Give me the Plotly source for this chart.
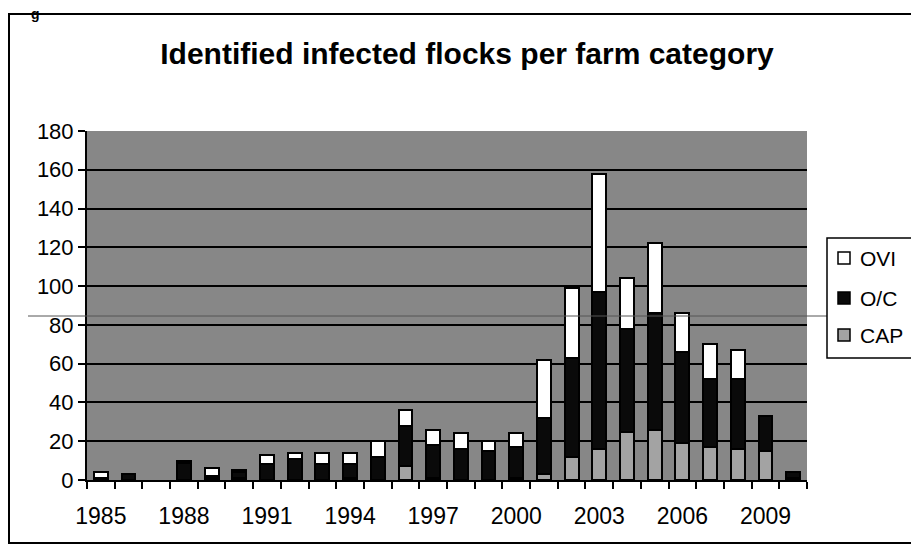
import plotly.graph_objects as go

years = list(range(1985, 2011))
cap = [1, 0, 0, 0, 1, 1, 0, 0, 0, 1, 0, 7, 1, 0, 0, 1, 3, 12, 16, 25, 26, 19, 17, 16, 15, 1]
oc = [0, 3, 0, 9, 1, 3, 8, 11, 8, 7, 12, 21, 17, 16, 15, 16, 29, 51, 81, 53, 60, 47, 35, 36, 18, 3]
ovi = [3, 0, 0, 1, 4, 1, 5, 3, 6, 6, 8, 8, 8, 8, 5, 7, 30, 36, 61, 26, 36, 20, 18, 15, 0, 0]
label_years = [1985, 1988, 1991, 1994, 1997, 2000, 2003, 2006, 2009]
y_ticks = list(range(0, 181, 20))

FONT = "Liberation Sans, Arial, sans-serif"

fig = go.Figure()
series = [("CAP", cap, "#a3a3a3"), ("O/C", oc, "#0a0a0a"), ("OVI", ovi, "#ffffff")]
for name, vals, col in series:
    fig.add_trace(go.Bar(
        x=years, y=[v if v else None for v in vals], name=name, showlegend=False,
        marker=dict(color=col, line=dict(color="black", width=2)),
    ))

W, H = 911, 554
L, R, T, B = 87, 807, 131, 480

def px(xp):
    return (xp - L) / (R - L)

def py(yp):
    return (B - yp) / (B - T)

fig.update_layout(
    width=W, height=H,
    margin=dict(l=L, r=W - R, t=T, b=H - B, autoexpand=False),
    barmode="stack", bargap=0.5,
    paper_bgcolor="white", plot_bgcolor="#878787",
    font=dict(family=FONT, size=22, color="black"),
    title=dict(text="<b>Identified infected flocks per farm category</b>",
               x=px(467), xref="paper", xanchor="center",
               y=1 - 53 / H, yref="container", yanchor="middle",
               font=dict(family=FONT, size=30, color="black")),
    xaxis=dict(range=[1984.5, 2010.5], tickmode="array", tickvals=label_years,
               ticks="", showgrid=False, zeroline=False,
               showline=True, linecolor="black", linewidth=2,
               tickfont=dict(size=23), ticklabelstandoff=14,
               minor=dict(tickmode="linear", tick0=1984.5, dtick=1, ticks="outside",
                          ticklen=7, tickwidth=1.5, tickcolor="black", showgrid=False)),
    yaxis=dict(range=[0, 180], tickmode="array", tickvals=y_ticks,
               ticks="outside", ticklen=7, tickwidth=1.5, tickcolor="black",
               showgrid=True, gridcolor="black", gridwidth=1.5, zeroline=False,
               showline=True, linecolor="black", linewidth=2,
               tickfont=dict(size=22)),
    showlegend=False,
)

# outer chart-area frame
fig.add_shape(type="rect", xref="paper", yref="paper",
              x0=px(9), x1=px(925), y0=py(543), y1=py(14),
              line=dict(color="black", width=2), fillcolor="rgba(0,0,0,0)", layer="above")
# scan artefact line
fig.add_shape(type="line", xref="paper", yref="paper",
              x0=px(28), x1=px(911), y0=py(316), y1=py(316),
              line=dict(color="#555555", width=1), layer="above")

# legend box (drawn by hand so it can run off the right edge as in the reference)
fig.add_shape(type="rect", xref="paper", yref="paper",
              x0=px(827), x1=px(925), y0=py(358), y1=py(238),
              line=dict(color="black", width=1.5), fillcolor="white", layer="above")
legend_rows = [("OVI", "#ffffff", 258), ("O/C", "#0a0a0a", 298), ("CAP", "#a3a3a3", 335)]
for name, col, yc in legend_rows:
    fig.add_shape(type="rect", xref="paper", yref="paper",
                  x0=px(838), x1=px(850), y0=py(yc + 6), y1=py(yc - 6),
                  line=dict(color="black", width=1.5), fillcolor=col, layer="above")
    fig.add_annotation(text=name, xref="paper", yref="paper",
                       x=px(858), y=py(yc), xanchor="left", yanchor="middle",
                       showarrow=False, font=dict(family=FONT, size=21, color="black"))

# caption glyph at top-left
fig.add_annotation(text="<b>g</b>", xref="paper", yref="paper",
                   x=px(29), y=py(4), showarrow=False,
                   font=dict(family=FONT, size=14, color="black"))

fig.write_html("out.html")
